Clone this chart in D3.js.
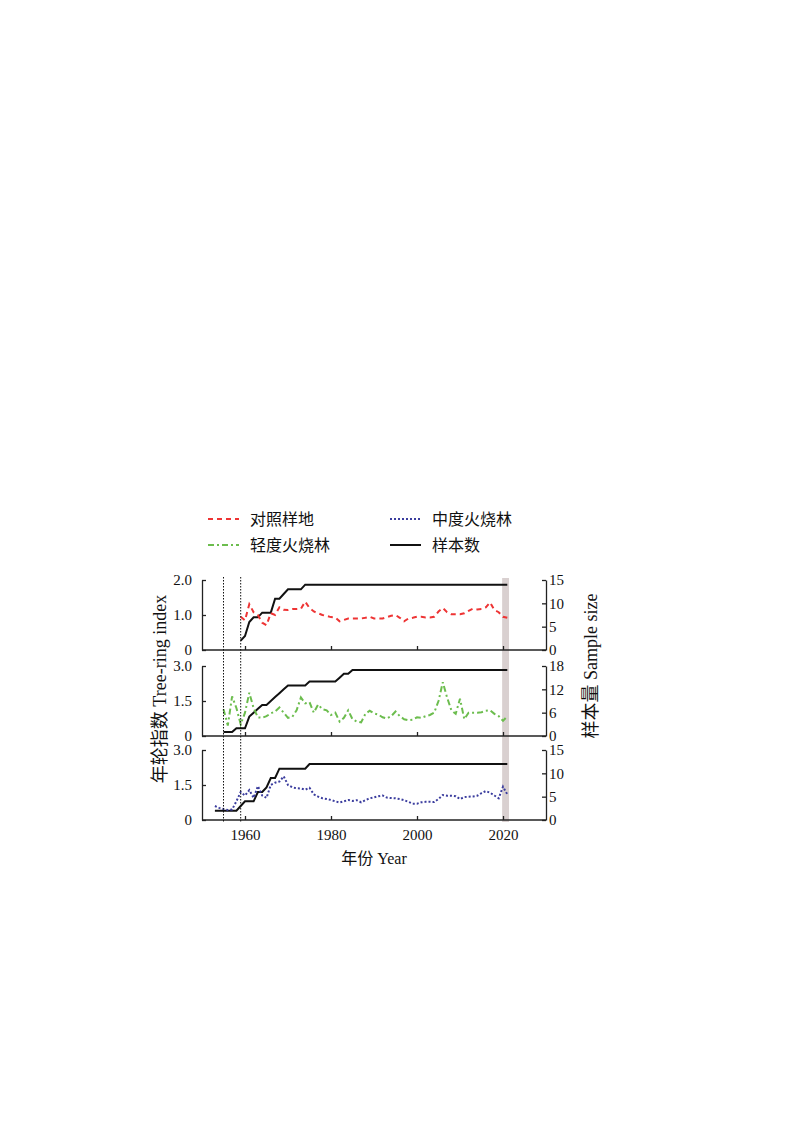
<!DOCTYPE html>
<html>
<head>
<meta charset="utf-8">
<script src="https://cdn.jsdelivr.net/npm/d3@7"></script>
<style>
  html, body { margin: 0; padding: 0; background: #fff; }
  svg { display: block; }
</style>
</head>
<body>
<svg id="chart" width="800" height="1131"></svg>
<script>
// ---------------- DATA ----------------
const seriesNames = ["对照样地", "轻度火烧林", "中度火烧林", "样本数"];
const xTicks = [1960, 1980, 2000, 2020];
const xTickLabels = ["1960", "1980", "2000", "2020"];
const markerYears = [1955, 1959];
const bandYears = [2019.8, 2021.4];

// 对照样地 (control), 1959-2021
const controlStart = 1959;
const controlIndex = [0.95, 0.85, 1.31, 1.08, 1.0, 0.78, 0.71, 1.05, 1.0, 1.22,
  1.15, 1.14, 1.17, 1.17, 1.18, 1.38, 1.2, 1.1, 1.05, 1.0,
  0.97, 0.94, 0.93, 0.82, 0.86, 0.9, 0.9, 0.9, 0.9, 0.92,
  0.95, 0.9, 0.9, 0.9, 0.94, 0.98, 1.0, 0.92, 0.82, 0.9,
  0.92, 0.95, 0.95, 0.93, 0.93, 0.95, 1.1, 1.2, 1.08, 1.02,
  1.02, 1.02, 1.05, 1.12, 1.18, 1.16, 1.17, 1.22, 1.36, 1.14,
  1.08, 0.95, 0.92];
const controlSample = [2, 3, 6, 7, 7, 8, 8, 8, 11, 11, 12, 13, 13, 13, 13,
  14, 14, 14, 14, 14, 14, 14, 14, 14, 14, 14, 14, 14, 14, 14, 14,
  14, 14, 14, 14, 14, 14, 14, 14, 14, 14, 14, 14, 14, 14, 14, 14,
  14, 14, 14, 14, 14, 14, 14, 14, 14, 14, 14, 14, 14, 14, 14, 14];

// 轻度火烧林 (light burn), 1955-2021
const lightStart = 1955;
const lightIndex = [1.15, 0.45, 1.7, 1.2, 0.5, 1.0, 1.85, 1.2, 0.8, 0.78,
  0.85, 0.97, 1.05, 1.22, 1.0, 0.78, 0.82, 1.1, 1.65, 1.4,
  1.45, 1.0, 1.35, 1.15, 1.1, 0.9, 1.0, 0.62, 0.78, 1.1,
  0.72, 0.62, 0.58, 0.95, 1.08, 0.97, 0.92, 0.8, 0.75, 0.85,
  1.05, 0.85, 0.72, 0.68, 0.7, 0.8, 0.78, 0.85, 0.9, 1.0,
  1.5, 2.3, 1.65, 1.1, 0.95, 1.6, 0.72, 1.0, 1.0, 1.0,
  1.02, 1.08, 1.1, 0.95, 0.85, 0.65, 0.85];
const lightSample = [1, 1, 1, 2, 2, 2, 5, 6, 7, 8, 8, 9, 10, 11, 12, 13, 13, 13, 13, 13,
  14, 14, 14, 14, 14, 14, 14, 15, 16, 16,
  17, 17, 17, 17, 17, 17, 17, 17, 17, 17, 17, 17, 17, 17, 17, 17, 17, 17, 17,
  17, 17, 17, 17, 17, 17, 17, 17, 17, 17, 17, 17, 17, 17, 17, 17, 17, 17];

// 中度火烧林 (moderate burn), 1953-2021
const moderateStart = 1953;
const moderateIndex = [0.6, 0.52, 0.47, 0.43, 0.45, 0.8, 1.2, 1.05, 1.28, 0.95,
  1.45, 1.05, 0.95, 1.5, 1.6, 1.65, 1.87, 1.5, 1.4, 1.36,
  1.35, 1.3, 1.38, 1.1, 1.0, 0.93, 0.9, 0.86, 0.8, 0.75,
  0.8, 0.86, 0.82, 0.85, 0.76, 0.85, 0.93, 0.97, 1.02, 1.05,
  0.96, 0.94, 0.93, 0.9, 0.85, 0.78, 0.7, 0.7, 0.76, 0.78,
  0.78, 0.77, 0.9, 1.07, 1.04, 1.04, 1.02, 0.9, 0.98, 1.0,
  1.01, 1.04, 1.15, 1.24, 1.17, 1.05, 0.93, 1.43, 1.1];
const moderateSample = [2, 2, 2, 2, 2, 2, 3, 4, 4, 4, 6, 6, 7, 9, 9, 11,
  11, 11, 11, 11, 11, 11,
  12, 12, 12, 12, 12, 12, 12, 12, 12, 12, 12, 12, 12, 12, 12, 12,
  12, 12, 12, 12, 12, 12, 12, 12, 12, 12, 12, 12, 12, 12, 12, 12,
  12, 12, 12, 12, 12, 12, 12, 12, 12, 12, 12, 12, 12, 12, 12];

const panelDefs = [
  { start: controlStart, index: controlIndex, sample: controlSample,
    yMax: 2.0, yTicks: [0, 1.0, 2.0], yLabels: ["0", "1.0", "2.0"],
    nMax: 15, nTicks: [0, 5, 10, 15], color: "#ee3434", dash: "5,4" },
  { start: lightStart, index: lightIndex, sample: lightSample,
    yMax: 3.0, yTicks: [0, 1.5, 3.0], yLabels: ["0", "1.5", "3.0"],
    nMax: 18, nTicks: [0, 6, 12, 18], color: "#6cbd4e", dash: "6,3,2,3" },
  { start: moderateStart, index: moderateIndex, sample: moderateSample,
    yMax: 3.0, yTicks: [0, 1.5, 3.0], yLabels: ["0", "1.5", "3.0"],
    nMax: 15, nTicks: [0, 5, 10, 15], color: "#3b3d9e", dash: "2,2" }
];

// ---------------- LAYOUT ----------------
const svg = d3.select("#chart");
const X0 = 202, X1 = 546;
const panelBox = [[580, 650], [666, 736], [750, 820]];
const serif = "'Liberation Serif', 'Times New Roman', serif";
const cjk = "'Noto Sans CJK SC', sans-serif";

const x = d3.scaleLinear().domain([1950, 2030]).range([X0, X1]);

// gray band
svg.append("rect")
  .attr("x", x(bandYears[0])).attr("y", 578)
  .attr("width", x(bandYears[1]) - x(bandYears[0]))
  .attr("height", 822 - 578)
  .attr("fill", "#d9d0d0");

panelDefs.forEach((p, i) => {
  const [top, bot] = panelBox[i];
  const y = d3.scaleLinear().domain([0, p.yMax]).range([bot, top]);
  const yN = d3.scaleLinear().domain([0, p.nMax]).range([bot, top]);
  const g = svg.append("g");

  // axes
  const ax = g.append("g").attr("transform", `translate(0,${bot})`)
    .call(d3.axisBottom(x).tickValues(xTicks).tickSizeInner(-4).tickSizeOuter(0)
      .tickFormat((d, k) => i === 2 ? xTickLabels[k] : ""));
  const ay = g.append("g").attr("transform", `translate(${X0},0)`)
    .call(d3.axisLeft(y).tickValues(p.yTicks).tickSizeInner(-4).tickSizeOuter(0)
      .tickPadding(10).tickFormat((d, k) => p.yLabels[k]));
  const ayr = g.append("g").attr("transform", `translate(${X1},0)`)
    .call(d3.axisRight(yN).tickValues(p.nTicks).tickSizeInner(-4).tickSizeOuter(0)
      .tickPadding(3).tickFormat(d3.format("d")));
  [ax, ay, ayr].forEach(a => {
    a.selectAll("path.domain").attr("stroke", "#222").attr("stroke-width", 1.3);
    a.selectAll("line").attr("stroke", "#222").attr("stroke-width", 1.3);
    a.selectAll("text").attr("font-family", serif).attr("font-size", 15).attr("fill", "#111");
  });
  ax.selectAll("text").attr("dy", "1.1em");
  ax.select("path.domain").attr("d", `M${X0},0H${X1}`);

  const years = d3.range(p.start, p.start + p.index.length);
  const line = d3.line().x(d => x(d[0])).y(d => y(d[1]));
  const lineN = d3.line().x(d => x(d[0])).y(d => yN(d[1]));

  g.append("path").datum(years.map((yr, k) => [yr, p.sample[k]]))
    .attr("d", lineN).attr("fill", "none").attr("stroke", "#111")
    .attr("stroke-width", 2);
  g.append("path").datum(years.map((yr, k) => [yr, p.index[k]]))
    .attr("d", line).attr("fill", "none").attr("stroke", p.color)
    .attr("stroke-width", 2).attr("stroke-dasharray", p.dash);
});

// vertical dotted markers
markerYears.forEach(yr => {
  svg.append("line")
    .attr("x1", x(yr)).attr("x2", x(yr)).attr("y1", 577).attr("y2", 822)
    .attr("stroke", "#111").attr("stroke-width", 1)
    .attr("stroke-dasharray", "1.5,1.5");
});

// axis titles
const xt = svg.append("text").attr("x", 374).attr("y", 864)
  .attr("text-anchor", "middle").attr("font-size", 16).attr("fill", "#111");
xt.append("tspan").attr("font-family", cjk).text("年份");
xt.append("tspan").attr("font-family", serif).text(" Year");

const ylt = svg.append("text").attr("transform", "translate(166,689) rotate(-90)")
  .attr("text-anchor", "middle").attr("font-size", 18).attr("fill", "#111");
ylt.append("tspan").attr("font-family", cjk).text("年轮指数");
ylt.append("tspan").attr("font-family", serif).text(" Tree-ring index");

const yrt = svg.append("text").attr("transform", "translate(597,666) rotate(-90)")
  .attr("text-anchor", "middle").attr("font-size", 18).attr("fill", "#111");
yrt.append("tspan").attr("font-family", cjk).text("样本量");
yrt.append("tspan").attr("font-family", serif).text(" Sample size");

// legend
const legendItems = [
  { name: seriesNames[0], color: panelDefs[0].color, dash: panelDefs[0].dash, lx: 208, ly: 519 },
  { name: seriesNames[2], color: panelDefs[2].color, dash: panelDefs[2].dash, lx: 390, ly: 519 },
  { name: seriesNames[1], color: panelDefs[1].color, dash: panelDefs[1].dash, lx: 208, ly: 545 },
  { name: seriesNames[3], color: "#111", dash: null, lx: 390, ly: 545 }
];
legendItems.forEach(it => {
  svg.append("line").attr("x1", it.lx).attr("x2", it.lx + 31)
    .attr("y1", it.ly).attr("y2", it.ly)
    .attr("stroke", it.color).attr("stroke-width", 2)
    .attr("stroke-dasharray", it.dash);
  svg.append("text").attr("x", it.lx + 42).attr("y", it.ly + 6)
    .attr("font-family", cjk).attr("font-size", 16).attr("fill", "#111")
    .text(it.name);
});
</script>
</body>
</html>
